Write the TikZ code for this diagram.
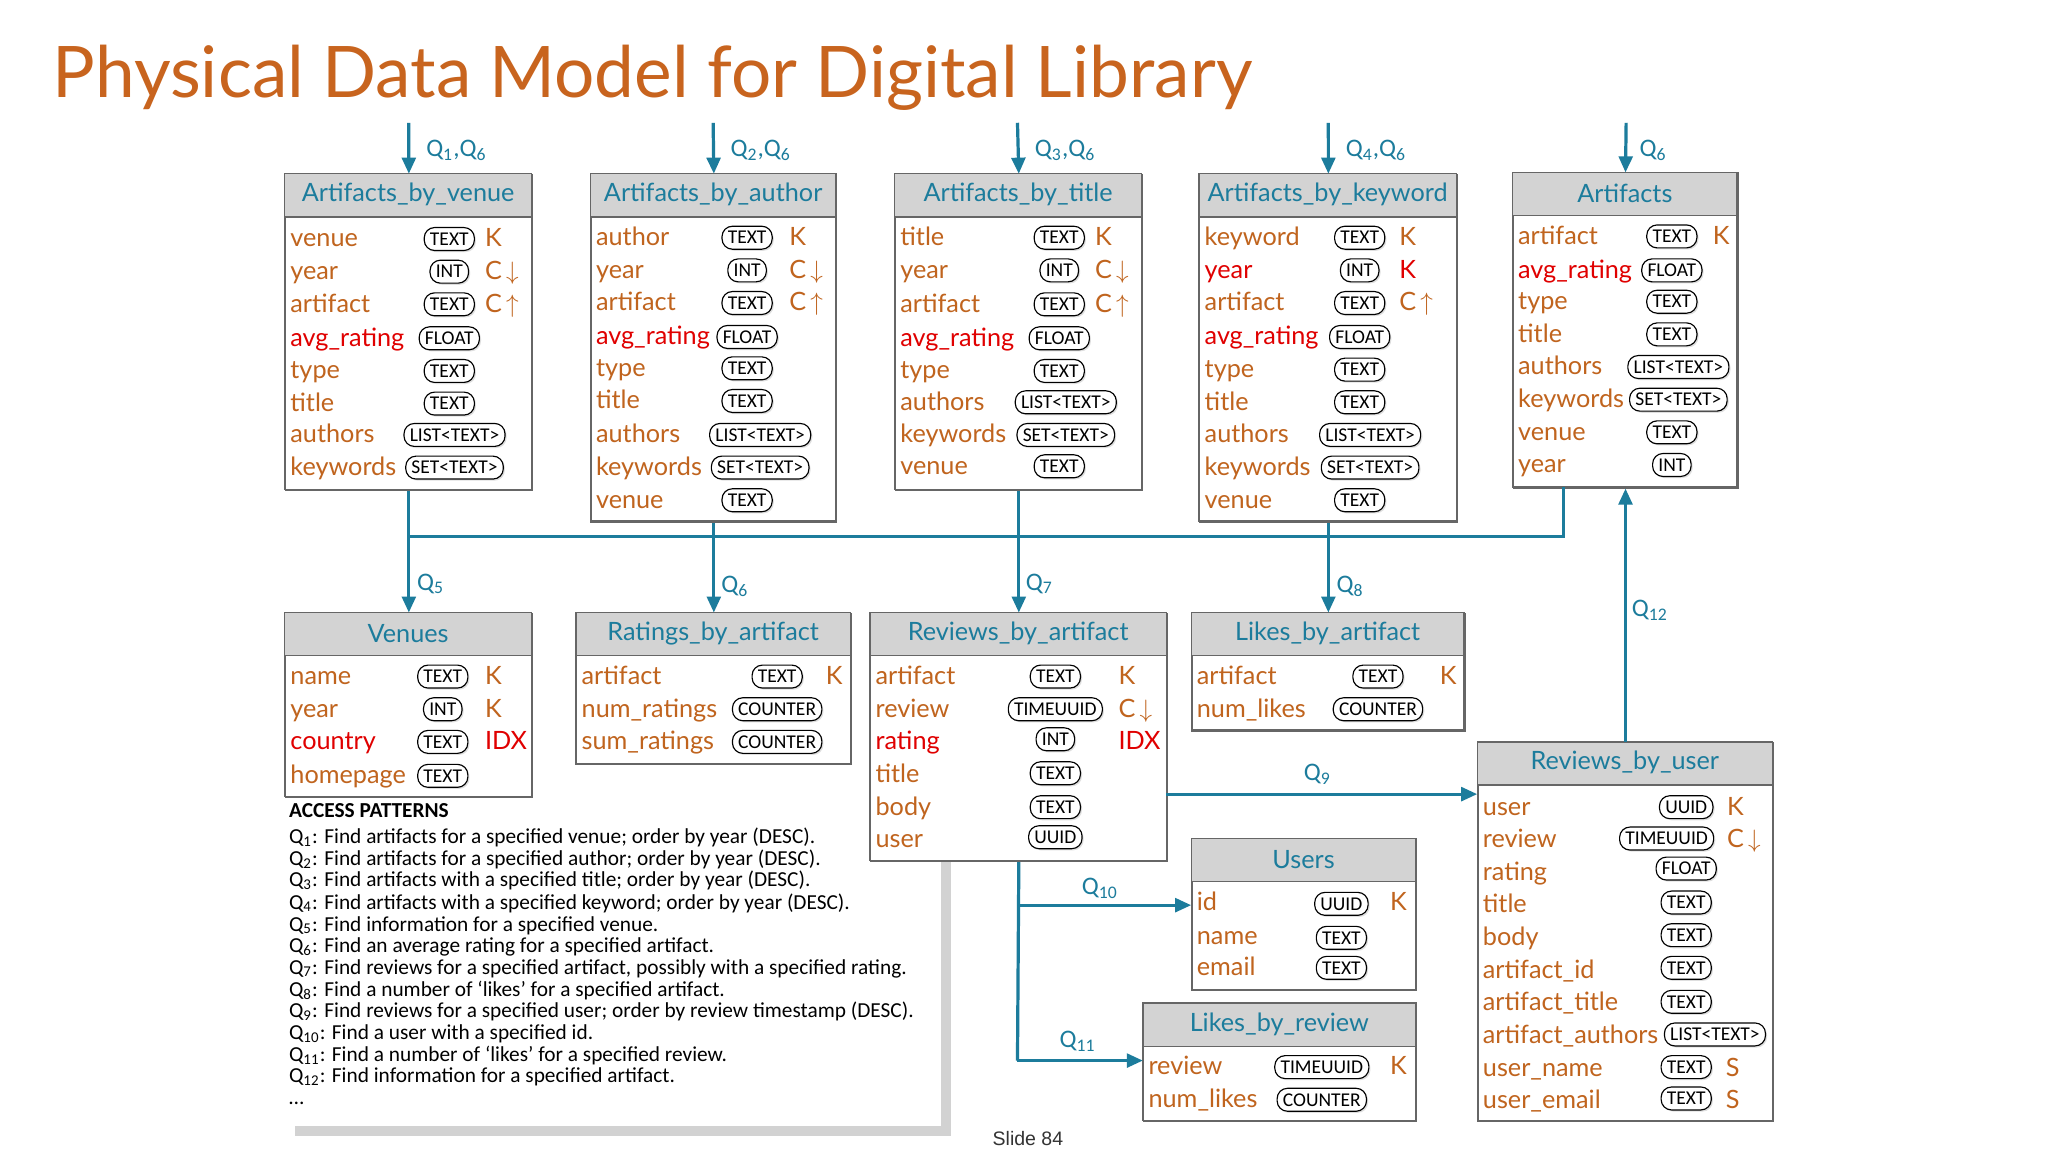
\documentclass[tikz,border=0pt]{standalone}
\usepackage{fontspec}
\setmainfont{Lato}
\newfontfamily\carl{Carlito}
\newfontfamily\slf{Liberation Sans}
\usetikzlibrary{arrows.meta,shadows}
\definecolor{org}{HTML}{C0641E}
\definecolor{ttl}{HTML}{C8641E}
\definecolor{rd}{HTML}{E00000}
\definecolor{tl}{HTML}{1C7C9C}
\definecolor{hd}{HTML}{D3D3D3}
\tikzset{
 tbox/.style={draw=gray!80!black,line width=0.6pt,fill=white,inner sep=0pt},
 htext/.style={text=tl,font=\fontsize{11}{12}\selectfont},
 fld/.style={anchor=base west,inner sep=0pt,font=\fontsize{11}{12}\selectfont},
 pill/.style={draw=black,line width=0.5pt,rounded corners=4.5pt,fill=white,inner xsep=2.5pt,inner ysep=1.2pt,minimum height=10pt,font=\carl\fontsize{8.5}{9}\selectfont,drop shadow={shadow xshift=0.7pt,shadow yshift=-0.7pt,fill=gray!50}},
 keyt/.style={anchor=base west,inner sep=0pt,font=\fontsize{11}{12}\selectfont},
 conn/.style={draw=tl,line width=1.4pt,-{Triangle[length=7pt,width=6pt]}},
 line/.style={draw=tl,line width=1.4pt},
 ql/.style={text=tl,anchor=west,inner sep=0pt,font=\carl\fontsize{11}{12}\selectfont},
}
\newcommand\tbl[6]{%
 \node[tbox,minimum width={(#4-#2)*0.02cm},minimum height={(#5-#3)*0.02cm},anchor=north west] (#1) at (#2,-#3) {};
 \fill[hd] (#2,-#3) rectangle (#4,{-#3-33});
 \draw[gray!80!black,line width=0.6pt] (#2,-#3) rectangle (#4,-#5);
 \draw[gray!80!black,line width=0.6pt] (#2,{-#3-33}) -- (#4,{-#3-33});
 \node[htext] (#1h) at ({(#2+#4)/2},{-#3-16}) {#6};}
\newcommand\fd[4]{\node[fld,text=#1] at (#2,{-#3-6}) {#4};}
\newcommand\ty[3]{\node[pill] at (#1,-#2) {#3};}
\newcommand\ky[4]{\node[keyt,text=#1] at (#2,{-#3-6}) {#4};}
\newcommand\dn{\,$\downarrow$}
\newcommand\up{\,$\uparrow$}
\newcommand\Q[1]{Q\textsubscript{#1}}
\begin{document}
\begin{tikzpicture}[x=0.02cm,y=0.02cm]
\useasboundingbox[fill=white] (0,0) rectangle (1568,-882);
\node[anchor=base west,text=ttl,inner sep=0pt,font=\fontsize{31}{33}\selectfont] (title) at (40,-75) {Physical Data Model for Digital Library};
% ---------- access patterns (behind)
\fill[gray!35] (226,-618) rectangle (728,-870);
\node[fill=white,minimum width={502*0.02cm},minimum height={252*0.02cm},anchor=north west,inner sep=0pt] (ap) at (218,-610) {};
\begin{scope}[every node/.style={anchor=base west,inner sep=0pt,font=\carl\fontsize{9.3}{10}\selectfont}]
\node (p0) at (221,-626) {\textbf{ACCESS PATTERNS}};
\node at (221,-646) {\Q1: Find artifacts for a specified venue; order by year (DESC).};
\node at (221,-663) {\Q2: Find artifacts for a specified author; order by year (DESC).};
\node at (221,-679) {\Q3: Find artifacts with a specified title; order by year (DESC).};
\node at (221,-696) {\Q4: Find artifacts with a specified keyword; order by year (DESC).};
\node at (221,-713) {\Q5: Find information for a specified venue.};
\node at (221,-729) {\Q6: Find an average rating for a specified artifact.};
\node at (221,-746) {\Q7: Find reviews for a specified artifact, possibly with a specified rating.};
\node at (221,-763) {\Q8: Find a number of ‘likes’ for a specified artifact.};
\node at (221,-779) {\Q9: Find reviews for a specified user; order by review timestamp (DESC).};
\node at (221,-796) {\Q{10}: Find a user with a specified id.};
\node at (221,-813) {\Q{11}: Find a number of ‘likes’ for a specified review.};
\node at (221,-829) {\Q{12}: Find information for a specified artifact.};
\node at (221,-846) {\dots};
\end{scope}
% ---------- T1
\tbl{t1}{218}{133}{407}{375}{Artifacts\_by\_venue}
\fd{org}{222}{183}{venue}\ty{344}{183}{TEXT}\ky{org}{371}{183}{K}
\fd{org}{222}{208}{year}\ty{344}{208}{INT}\ky{org}{371}{208}{C\dn}
\fd{org}{222}{233}{artifact}\ty{344}{233}{TEXT}\ky{org}{371}{233}{C\up}
\fd{rd}{222}{259}{avg\_rating}\ty{344}{259}{FLOAT}
\fd{org}{222}{284}{type}\ty{344}{284}{TEXT}
\fd{org}{222}{309}{title}\ty{344}{309}{TEXT}
\fd{org}{222}{333}{authors}\ty{348}{333}{LIST<TEXT>}
\fd{org}{222}{358}{keywords}\ty{348}{358}{SET<TEXT>}
% ---------- T2
\tbl{t2}{452}{133}{640}{399}{Artifacts\_by\_author}
\fd{org}{456}{182}{author}\ty{572}{182}{TEXT}\ky{org}{604}{182}{K}
\fd{org}{456}{207}{year}\ty{572}{207}{INT}\ky{org}{604}{207}{C\dn}
\fd{org}{456}{232}{artifact}\ty{572}{232}{TEXT}\ky{org}{604}{232}{C\up}
\fd{rd}{456}{258}{avg\_rating}\ty{572}{258}{FLOAT}
\fd{org}{456}{282}{type}\ty{572}{282}{TEXT}
\fd{org}{456}{307}{title}\ty{572}{307}{TEXT}
\fd{org}{456}{333}{authors}\ty{582}{333}{LIST<TEXT>}
\fd{org}{456}{358}{keywords}\ty{582}{358}{SET<TEXT>}
\fd{org}{456}{383}{venue}\ty{572}{383}{TEXT}
% ---------- T3
\tbl{t3}{685}{133}{874}{375}{Artifacts\_by\_title}
\fd{org}{689}{182}{title}\ty{811}{182}{TEXT}\ky{org}{838}{182}{K}
\fd{org}{689}{207}{year}\ty{811}{207}{INT}\ky{org}{838}{207}{C\dn}
\fd{org}{689}{233}{artifact}\ty{811}{233}{TEXT}\ky{org}{838}{233}{C\up}
\fd{rd}{689}{259}{avg\_rating}\ty{811}{259}{FLOAT}
\fd{org}{689}{284}{type}\ty{811}{284}{TEXT}
\fd{org}{689}{308}{authors}\ty{816}{308}{LIST<TEXT>}
\fd{org}{689}{333}{keywords}\ty{816}{333}{SET<TEXT>}
\fd{org}{689}{357}{venue}\ty{811}{357}{TEXT}
% ---------- T4
\tbl{t4}{918}{133}{1115}{399}{Artifacts\_by\_keyword}
\fd{org}{922}{182}{keyword}\ty{1041}{182}{TEXT}\ky{org}{1071}{182}{K}
\fd{rd}{922}{207}{year}\ty{1041}{207}{INT}\ky{rd}{1071}{207}{K}
\fd{org}{922}{232}{artifact}\ty{1041}{232}{TEXT}\ky{org}{1071}{232}{C\up}
\fd{rd}{922}{258}{avg\_rating}\ty{1041}{258}{FLOAT}
\fd{org}{922}{283}{type}\ty{1041}{283}{TEXT}
\fd{org}{922}{308}{title}\ty{1041}{308}{TEXT}
\fd{org}{922}{333}{authors}\ty{1049}{333}{LIST<TEXT>}
\fd{org}{922}{358}{keywords}\ty{1049}{358}{SET<TEXT>}
\fd{org}{922}{383}{venue}\ty{1041}{383}{TEXT}
% ---------- T5
\tbl{t5}{1158}{132}{1330}{373}{Artifacts}
\fd{org}{1162}{181}{artifact}\ty{1280}{181}{TEXT}\ky{org}{1311}{181}{K}
\fd{rd}{1162}{207}{avg\_rating}\ty{1280}{207}{FLOAT}
\fd{org}{1162}{231}{type}\ty{1280}{231}{TEXT}
\fd{org}{1162}{256}{title}\ty{1280}{256}{TEXT}
\fd{org}{1162}{281}{authors}\ty{1285}{281}{LIST<TEXT>}
\fd{org}{1162}{306}{keywords}\ty{1285}{306}{SET<TEXT>}
\fd{org}{1162}{331}{venue}\ty{1280}{331}{TEXT}
\fd{org}{1162}{356}{year}\ty{1280}{356}{INT}
% ---------- Venues
\tbl{t6}{218}{469}{407}{610}{Venues}
\fd{org}{222}{518}{name}\ty{339}{518}{TEXT}\ky{org}{371}{518}{K}
\fd{org}{222}{543}{year}\ty{339}{543}{INT}\ky{org}{371}{543}{K}
\fd{rd}{222}{568}{country}\ty{339}{568}{TEXT}\ky{rd}{371}{568}{IDX}
\fd{org}{222}{594}{homepage}\ty{339}{594}{TEXT}
% ---------- Ratings
\tbl{t7}{441}{469}{651}{585}{Ratings\_by\_artifact}
\fd{org}{445}{518}{artifact}\ty{595}{518}{TEXT}\ky{org}{632}{518}{K}
\fd{org}{445}{543}{num\_ratings}\ty{595}{543}{COUNTER}
\fd{org}{445}{568}{sum\_ratings}\ty{595}{568}{COUNTER}
% ---------- Reviews_by_artifact
\tbl{t8}{666}{469}{893}{659}{Reviews\_by\_artifact}
\fd{org}{670}{518}{artifact}\ty{808}{518}{TEXT}\ky{org}{856}{518}{K}
\fd{org}{670}{543}{review}\ty{808}{543}{TIMEUUID}\ky{org}{856}{543}{C\dn}
\fd{rd}{670}{568}{rating}\ty{808}{566}{INT}\ky{rd}{856}{568}{IDX}
\fd{org}{670}{593}{title}\ty{808}{592}{TEXT}
\fd{org}{670}{618}{body}\ty{808}{618}{TEXT}
\fd{org}{670}{643}{user}\ty{808}{641}{UUID}
% ---------- Likes_by_artifact
\tbl{t9}{912}{469}{1121}{559}{Likes\_by\_artifact}
\fd{org}{916}{518}{artifact}\ty{1055}{518}{TEXT}\ky{org}{1102}{518}{K}
\fd{org}{916}{543}{num\_likes}\ty{1055}{543}{COUNTER}
% ---------- Reviews_by_user
\tbl{t10}{1131}{568}{1357}{858}{Reviews\_by\_user}
\fd{org}{1135}{618}{user}\ty{1291}{618}{UUID}\ky{org}{1322}{618}{K}
\fd{org}{1135}{643}{review}\ty{1276}{642}{TIMEUUID}\ky{org}{1322}{643}{C\dn}
\fd{org}{1135}{668}{rating}\ty{1291}{665}{FLOAT}
\fd{org}{1135}{693}{title}\ty{1291}{691}{TEXT}
\fd{org}{1135}{718}{body}\ty{1291}{716}{TEXT}
\fd{org}{1135}{743}{artifact\_id}\ty{1291}{741}{TEXT}
\fd{org}{1135}{768}{artifact\_title}\ty{1291}{767}{TEXT}
\fd{org}{1135}{793}{artifact\_authors}\ty{1313}{792}{LIST<TEXT>}
\fd{org}{1135}{818}{user\_name}\ty{1291}{817}{TEXT}\ky{org}{1321}{818}{S}
\fd{org}{1135}{843}{user\_email}\ty{1291}{841}{TEXT}\ky{org}{1321}{843}{S}
% ---------- Users
\tbl{t11}{912}{642}{1084}{758}{Users}
\fd{org}{916}{691}{id}\ty{1027}{692}{UUID}\ky{org}{1064}{691}{K}
\fd{org}{916}{717}{name}\ty{1027}{718}{TEXT}
\fd{org}{916}{741}{email}\ty{1027}{741}{TEXT}
% ---------- Likes_by_review
\tbl{t12}{875}{768}{1084}{858}{Likes\_by\_review}
\fd{org}{879}{817}{review}\ty{1012}{817}{TIMEUUID}\ky{org}{1064}{817}{K}
\fd{org}{879}{842}{num\_likes}\ty{1012}{842}{COUNTER}
% ---------- top arrows
\coordinate (a1) at (313,-94);\coordinate (a2) at (546,-94);\coordinate (a3) at (779,-94);
\coordinate (a4) at (1017,-94);\coordinate (a5) at (1245,-94);
\draw[conn] (a1) -- (t1.north); \node[ql] at (326,-115) {\Q1,\Q6};
\draw[conn] (a2) -- (t2.north); \node[ql] at (559,-115) {\Q2,\Q6};
\draw[conn] (a3) -- (t3.north); \node[ql] at (792,-115) {\Q3,\Q6};
\draw[conn] (a4) -- (t4.north); \node[ql] at (1030,-115) {\Q4,\Q6};
\draw[conn] (a5) -- (t5.north); \node[ql] at (1255,-115) {\Q6};
% ---------- bus
\coordinate (b1) at (313,-411);\coordinate (b5) at (1197,-411);\coordinate (t5b) at (1197,-373);
\draw[line] (b1) -- (b5) -- (t5b);
\draw[conn] (t1.south) -- (t6.north); \node[ql] at (319,-447) {\Q5};
\draw[conn] (t2.south) -- (t7.north); \node[ql] at (552,-449) {\Q6};
\draw[conn] (t3.south) -- (t8.north); \node[ql] at (785,-447) {\Q7};
\draw[conn] (t4.south) -- (t9.north); \node[ql] at (1023,-449) {\Q8};
\draw[conn] (t10.north) -- (t5.south); \node[ql] at (1249,-467) {\Q{12}};
\coordinate (r9) at (893,-608);
\draw[conn] (r9) -- (t10.west |- r9); \node[ql] at (998,-593) {\Q9};
\coordinate (c10) at (779,-693);\coordinate (c11) at (779,-812);
\draw[line] (t8.south) -- (c11);
\draw[conn] (c10) -- (t11.west |- c10); \node[ql] at (828,-680) {\Q{10}};
\draw[conn] (c11) -- (t12.west |- c11); \node[ql] at (811,-797) {\Q{11}};
\node[font=\slf\fontsize{8.5}{9}\selectfont,text=black!80] (slide) at (787,-872) {Slide 84};
\end{tikzpicture}
\end{document}
